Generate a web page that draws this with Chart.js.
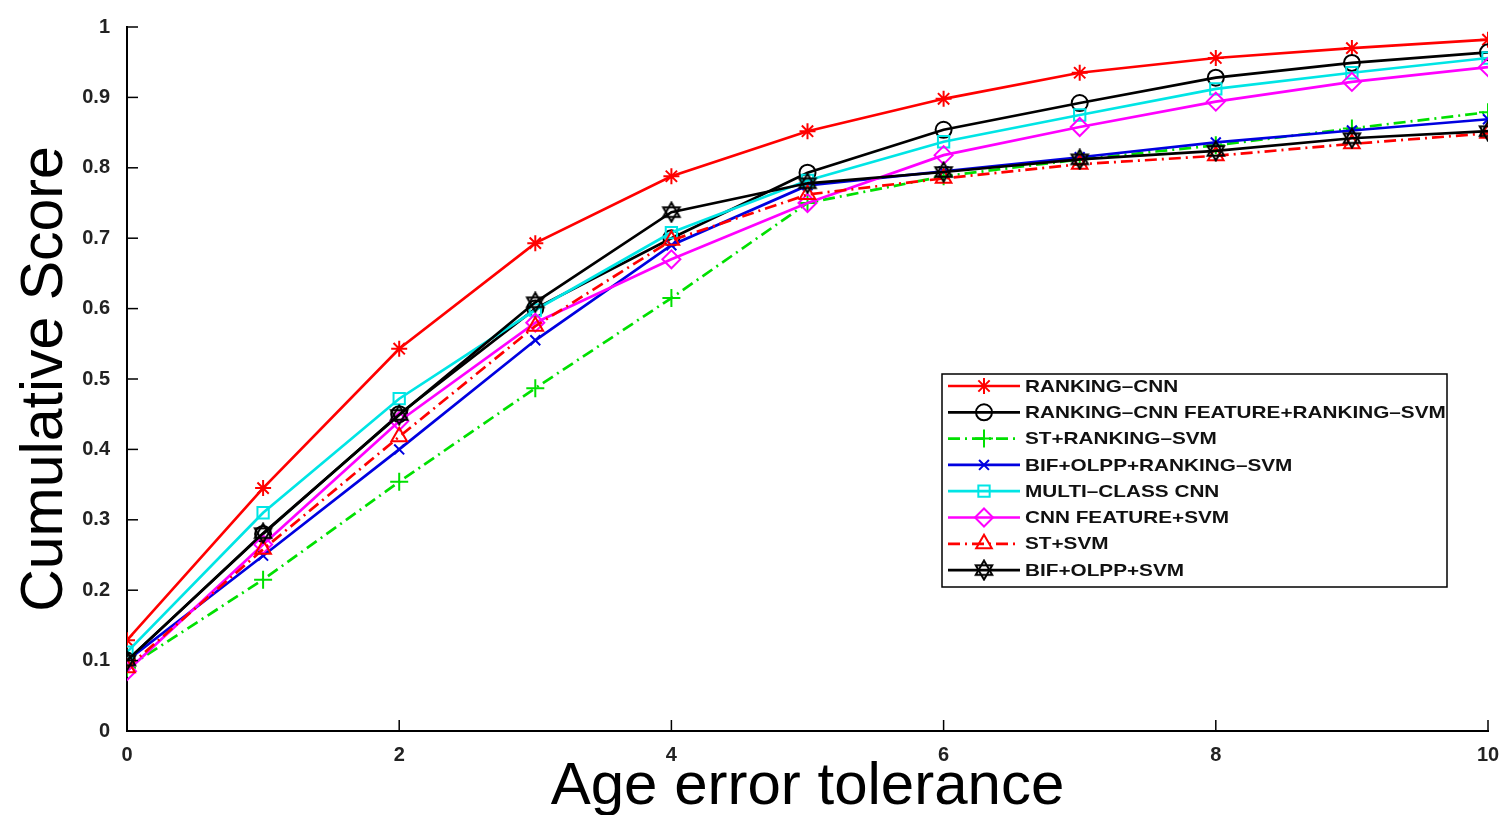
<!DOCTYPE html>
<html>
<head>
<meta charset="utf-8">
<script src="https://cdn.jsdelivr.net/npm/chart.js@4.4.0/dist/chart.umd.min.js"></script>
<style>
  html, body { margin: 0; padding: 0; background: #fff; }
  #wrap { width: 1505px; height: 815px; position: relative; }
</style>
</head>
<body>
<div id="wrap"><canvas id="cmc"></canvas></div>
<script>
// Données (score cumulé par tolérance d'erreur)
const tolerance = [0, 1, 2, 3, 4, 5, 6, 7, 8, 9, 10];
const seriesNames = [
    'RANKING\u2013CNN',
    'RANKING\u2013CNN FEATURE+RANKING\u2013SVM',
    'ST+RANKING\u2013SVM',
    'BIF+OLPP+RANKING\u2013SVM',
    'MULTI\u2013CLASS CNN',
    'CNN FEATURE+SVM',
    'ST+SVM',
    'BIF+OLPP+SVM'
];
const rankingCnn   = [0.129, 0.345, 0.543, 0.693, 0.788, 0.852, 0.898, 0.935, 0.956, 0.970, 0.982];
const rankingFeat  = [0.100, 0.280, 0.450, 0.600, 0.700, 0.793, 0.854, 0.892, 0.928, 0.949, 0.964];
const stRanking    = [0.090, 0.215, 0.354, 0.487, 0.615, 0.750, 0.788, 0.812, 0.832, 0.856, 0.879];
const bifRanking   = [0.100, 0.249, 0.400, 0.555, 0.690, 0.775, 0.795, 0.815, 0.836, 0.853, 0.869];
const multiClass   = [0.112, 0.310, 0.472, 0.598, 0.708, 0.782, 0.837, 0.875, 0.912, 0.935, 0.956];
const cnnFeatSvm   = [0.085, 0.265, 0.440, 0.580, 0.670, 0.750, 0.818, 0.858, 0.894, 0.922, 0.943];
const stSvm        = [0.090, 0.258, 0.418, 0.575, 0.697, 0.762, 0.785, 0.805, 0.817, 0.834, 0.849];
const bifSvm       = [0.100, 0.281, 0.449, 0.609, 0.737, 0.778, 0.794, 0.812, 0.824, 0.842, 0.852];

// marqueur hexagramme (BIF+OLPP+SVM)
function makeHexagram(size) {
    const c = document.createElement('canvas');
    c.width = size; c.height = size;
    const g = c.getContext('2d');
    const r = size / 2 - 1.5, cx = size / 2, cy = size / 2;
    g.strokeStyle = '#000';
    g.lineWidth = 2;
    [ -Math.PI / 2, Math.PI / 2 ].forEach(a0 => {
        g.beginPath();
        for (let i = 0; i < 3; i++) {
            const a = a0 + i * 2 * Math.PI / 3;
            const px = cx + r * Math.cos(a), py = cy + r * Math.sin(a);
            if (i === 0) g.moveTo(px, py); else g.lineTo(px, py);
        }
        g.closePath();
        g.stroke();
    });
    return c;
}
const hexagram = makeHexagram(22);

const dashDot = [12, 5, 2, 5];

function ds(label, data, color, style, radius, dash) {
    return {
        label: label,
        data: data.map((v, i) => ({ x: tolerance[i], y: v })),
        borderColor: color,
        backgroundColor: color,
        borderWidth: 2.7,
        borderDash: dash || [],
        pointStyle: style,
        pointRadius: radius,
        pointBorderWidth: 2,
        pointBorderColor: color,
        pointBackgroundColor: 'rgba(0,0,0,0)',
        tension: 0,
        fill: false
    };
}

const datasets = [
    ds(seriesNames[0], rankingCnn, '#ff0000', 'star', 8),
    ds(seriesNames[1], rankingFeat, '#000000', 'circle', 8),
    ds(seriesNames[2], stRanking, '#00e000', 'cross', 9, dashDot),
    ds(seriesNames[3], bifRanking, '#0000e0', 'crossRot', 7),
    ds(seriesNames[4], multiClass, '#00e5e5', 'rect', 8),
    ds(seriesNames[5], cnnFeatSvm, '#ff00ff', 'rectRot', 9),
    ds(seriesNames[6], stSvm, '#ff0000', 'triangle', 9, dashDot),
    ds(seriesNames[7], bifSvm, '#000000', hexagram, 11)
];
// Dernière série tracée au-dessus (comme MATLAB)
datasets.forEach((d, i) => { d.order = -i; });

// Graduations vers l'intérieur
const innerTicks = {
    id: 'innerTicks',
    afterDraw(chart) {
        const ctx = chart.ctx;
        const { left, bottom } = chart.chartArea;
        ctx.save();
        ctx.strokeStyle = '#000';
        ctx.lineWidth = 1.5;
        chart.scales.y.ticks.forEach(t => {
            const py = chart.scales.y.getPixelForValue(t.value);
            ctx.beginPath(); ctx.moveTo(left, py); ctx.lineTo(left + 11, py); ctx.stroke();
        });
        chart.scales.x.ticks.forEach(t => {
            const px = chart.scales.x.getPixelForValue(t.value);
            ctx.beginPath(); ctx.moveTo(px, bottom); ctx.lineTo(px, bottom - 11); ctx.stroke();
        });
        ctx.restore();
    }
};

// Légende façon MATLAB : trait + marqueur
const matlabLegend = {
    id: 'matlabLegend',
    afterDraw(chart) {
        const ctx = chart.ctx;
        const bx = 942, by = 374, bw = 505, bh = 213;
        const rowH = 26.3;
        ctx.save();
        ctx.fillStyle = '#fff';
        ctx.fillRect(bx, by, bw, bh);
        ctx.strokeStyle = '#000';
        ctx.lineWidth = 1.5;
        ctx.strokeRect(bx, by, bw, bh);
        chart.data.datasets.forEach((d, i) => {
            const y = by + 12 + i * rowH;
            ctx.strokeStyle = d.borderColor;
            ctx.lineWidth = 2.7;
            ctx.setLineDash(d.borderDash);
            ctx.beginPath(); ctx.moveTo(948, y); ctx.lineTo(1020, y); ctx.stroke();
            ctx.setLineDash([]);
            ctx.lineWidth = 2;
            ctx.fillStyle = 'rgba(0,0,0,0)';
            Chart.helpers.drawPoint(ctx, {
                pointStyle: d.pointStyle, rotation: 0,
                radius: d.pointRadius, borderWidth: 2
            }, 984, y);
            ctx.save();
            ctx.translate(1025, y);
            ctx.scale(1.22, 1);
            ctx.fillStyle = '#111';
            ctx.font = 'bold 17px "Liberation Sans", Arial, sans-serif';
            ctx.textBaseline = 'middle';
            ctx.fillText(d.label, 0, 1);
            ctx.restore();
        });
        ctx.restore();
    }
};

new Chart(document.getElementById('cmc'), {
    type: 'line',
    data: { datasets: datasets },
    options: {
        responsive: true,
        maintainAspectRatio: false,
        animation: false,
        layout: { padding: { top: 27, right: 17, left: 0, bottom: 0 } },
        plugins: { legend: { display: false }, tooltip: { enabled: false } },
        scales: {
            x: {
                type: 'linear', min: 0, max: 10,
                afterFit: (s) => { s.height = 84; },
                grid: { display: false },
                border: { display: true, color: '#000', width: 2 },
                ticks: {
                    stepSize: 2, padding: 4, color: '#222',
                    font: { family: '"Liberation Sans", Arial, sans-serif', size: 20, weight: 'bold' }
                },
                title: {
                    display: true, text: 'Age error tolerance', color: '#000',
                    padding: { top: 0, bottom: -2 },
                    font: { family: '"Liberation Sans", Arial, sans-serif', size: 60, lineHeight: 1.0 }
                }
            },
            y: {
                min: 0, max: 1,
                afterFit: (s) => { s.width = 127; },
                grid: { display: false },
                border: { display: true, color: '#000', width: 2 },
                ticks: {
                    stepSize: 0.1, padding: 9, color: '#222',
                    font: { family: '"Liberation Sans", Arial, sans-serif', size: 20, weight: 'bold' },
                    callback: (v) => (v === 0 || v === 1) ? String(v) : v.toFixed(1)
                },
                title: {
                    display: true, text: 'Cumulative Score', color: '#000',
                    padding: { top: 10, bottom: 4 },
                    font: { family: '"Liberation Sans Narrow", "Liberation Sans", Arial, sans-serif', size: 59 }
                }
            }
        }
    },
    plugins: [innerTicks, matlabLegend]
});
</script>
</body>
</html>
